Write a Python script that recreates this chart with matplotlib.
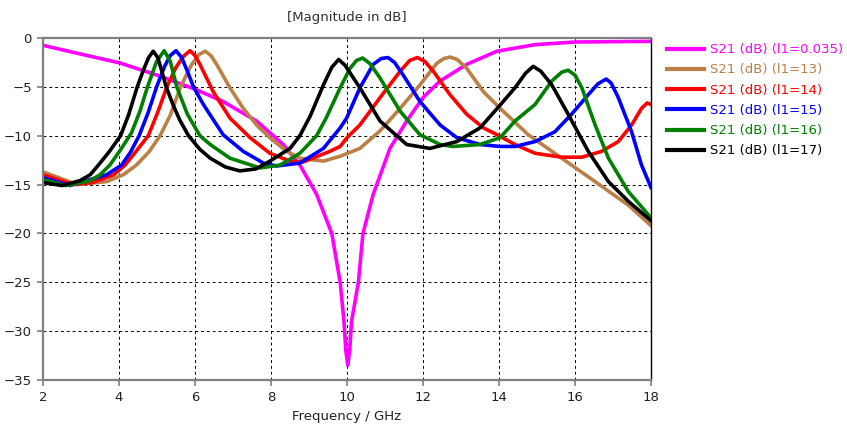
import matplotlib
matplotlib.use("Agg")
import matplotlib.pyplot as plt

# S21 magnitude (dB) vs frequency (GHz)
f_0035 = [2.0, 3.0, 4.03, 5.08, 6.04, 6.74, 7.62, 8.32, 8.76, 9.2, 9.6, 9.82, 9.92, 9.97, 10.02,
          10.07, 10.12, 10.3, 10.42, 10.69, 11.13, 11.57, 12.0, 12.45, 13.15, 13.94, 14.95, 16.0, 18.0]
s_0035 = [-0.75, -1.65, -2.56, -3.9, -5.3, -6.5, -8.5, -10.9, -13.0, -16.0, -20.0, -25.0, -29.0, -32.0, -33.5,
          -32.0, -29.0, -25.0, -20.0, -16.0, -11.3, -8.5, -6.1, -4.4, -2.7, -1.36, -0.68, -0.41, -0.34]

f_13 = [2.0, 2.9, 3.67, 4.11, 4.46, 4.8, 5.08, 5.35, 5.62, 5.9, 6.1, 6.27, 6.42, 6.57, 6.92, 7.27, 7.62, 7.97,
        8.41, 8.76, 9.38, 9.82, 10.34, 10.87, 11.4, 11.92, 12.36, 12.55, 12.71, 12.9, 13.15, 13.59, 14.03,
        14.77, 15.65, 16.53, 17.4, 18.0]
s_13 = [-13.7, -15.0, -14.7, -14.0, -13.0, -11.6, -10.0, -7.9, -5.0, -2.8, -1.7, -1.35, -1.8, -2.7, -5.1, -7.2, -8.9, -10.2,
        -11.6, -12.3, -12.6, -12.1, -11.3, -9.5, -7.2, -4.8, -2.6, -2.1, -1.95, -2.2, -3.1, -5.5, -7.2,
        -9.9, -12.3, -14.7, -17.1, -19.2]

f_14 = [2.0, 2.8, 3.3, 3.86, 4.16, 4.47, 4.77, 5.02, 5.26, 5.5, 5.69, 5.87, 6.0, 6.13, 6.48, 6.92, 7.45, 7.97, 8.5,
        8.84, 9.55, 9.82, 10.0, 10.34, 10.87, 11.4, 11.65, 11.85, 12.05, 12.27, 12.71, 13.15, 13.59, 14.0,
        14.42, 14.95, 15.65, 16.18, 16.7, 17.14, 17.49, 17.75, 17.9, 18.0]
s_14 = [-14.0, -15.0, -14.8, -14.0, -13.0, -11.5, -10.0, -7.6, -5.0, -3.0, -1.9, -1.3, -1.8, -2.7, -5.5, -8.2, -10.2, -11.8, -12.6,
        -12.7, -11.6, -11.1, -10.2, -8.9, -6.1, -3.4, -2.3, -2.0, -2.4, -3.4, -5.8, -7.8, -9.2, -10.0,
        -10.9, -11.8, -12.2, -12.2, -11.6, -10.6, -8.9, -7.2, -6.65, -6.8]

f_15 = [2.0, 2.7, 3.67, 4.07, 4.3, 4.53, 4.77, 4.99, 5.2, 5.35, 5.5, 5.65, 5.82, 5.96, 6.22, 6.74, 7.27, 7.8, 8.15,
        8.76, 9.38, 9.82, 9.99, 10.34, 10.69, 10.9, 11.08, 11.25, 11.48, 11.92, 12.45, 12.89, 13.5, 14.03,
        14.42, 14.95, 15.47, 15.91, 16.35, 16.6, 16.82, 16.95, 17.14, 17.49, 17.75, 18.0]
s_15 = [-14.3, -15.1, -14.0, -13.0, -11.7, -10.0, -7.6, -5.0, -2.9, -1.8, -1.3, -2.0, -3.6, -5.0, -6.8, -9.9, -11.6, -12.8, -13.1,
        -12.8, -11.3, -9.2, -8.2, -5.1, -2.7, -2.1, -2.0, -2.5, -3.8, -6.5, -8.9, -10.2, -10.9, -11.1,
        -11.1, -10.6, -9.6, -7.8, -5.8, -4.7, -4.2, -4.6, -6.1, -9.6, -13.0, -15.3]

f_16 = [2.0, 2.6, 3.24, 3.5, 3.76, 4.03, 4.33, 4.55, 4.75, 4.99, 5.19, 5.35, 5.52, 5.8, 6.13, 6.4, 6.92, 7.71, 8.24,
        8.76, 9.2, 9.45, 9.82, 10.08, 10.25, 10.41, 10.6, 10.87, 11.4, 11.92, 12.45, 12.79, 13.5, 14.03, 14.42,
        14.95, 15.39, 15.65, 15.82, 16.0, 16.18, 16.53, 16.88, 17.4, 18.0]
s_16 = [-14.5, -15.1, -14.6, -14.0, -13.0, -11.5, -9.7, -7.5, -5.0, -2.4, -1.3, -2.4, -5.0, -7.8, -10.0, -10.9, -12.3, -13.3, -13.0,
        -11.8, -10.0, -8.2, -5.1, -3.1, -2.3, -2.05, -2.6, -4.1, -7.5, -9.9, -10.9, -11.1, -10.9, -10.2, -8.5,
        -6.8, -4.4, -3.5, -3.3, -3.8, -5.1, -8.9, -12.3, -15.7, -18.4]

f_17 = [2.0, 2.5, 2.97, 3.24, 3.46, 3.75, 4.04, 4.25, 4.48, 4.64, 4.78, 4.9, 5.02, 5.12, 5.24, 5.43, 5.6, 5.83, 6.13, 6.4,
        6.8, 7.18, 7.6, 7.97, 8.5, 8.76, 9.03, 9.38, 9.6, 9.78, 9.95, 10.34, 10.87, 11.57, 12.18, 12.89, 13.5,
        14.0, 14.42, 14.7, 14.9, 15.1, 15.39, 15.82, 16.35, 16.88, 17.4, 18.0]
s_17 = [-14.8, -15.1, -14.6, -14.0, -13.0, -11.6, -10.0, -7.9, -5.0, -3.3, -2.0, -1.35, -2.0, -3.3, -5.0, -6.9, -8.4, -10.0, -11.4, -12.3,
        -13.2, -13.6, -13.4, -12.6, -11.3, -10.0, -8.0, -4.8, -3.0, -2.2, -2.8, -5.1, -8.5, -10.9, -11.3, -10.6, -9.2,
        -7.0, -5.1, -3.6, -2.9, -3.4, -4.8, -7.8, -11.6, -14.7, -16.7, -18.7]

labels = ["S21 (dB) (l1=0.035)", "S21 (dB) (l1=13)", "S21 (dB) (l1=14)",
          "S21 (dB) (l1=15)", "S21 (dB) (l1=16)", "S21 (dB) (l1=17)"]
colors = ["#FF00FF", "#BC8046", "#FF0000", "#0000FF", "#008000", "#000000"]
freqs = [f_0035, f_13, f_14, f_15, f_16, f_17]
s21 = [s_0035, s_13, s_14, s_15, s_16, s_17]

xticks = [2, 4, 6, 8, 10, 12, 14, 16, 18]
yticks = [0, -5, -10, -15, -20, -25, -30, -35]

plt.rcParams['font.family'] = ['DejaVu Sans']

fig = plt.figure(figsize=(8.47, 4.34), dpi=100)
ax = fig.add_axes([43 / 847, 54 / 434, 608 / 847, 342 / 434])

for f, s, c, lab in zip(freqs, s21, colors, labels):
    ax.plot(f, s, color=c, lw=2.6, label=lab, solid_joinstyle='round')

ax.set_xlim(2, 18)
ax.set_ylim(-35, 0)
ax.set_xticks(xticks)
ax.set_yticks(yticks)
ax.grid(True, color='black', linestyle=(0, (3, 3)), linewidth=0.7)

for side in ['left', 'bottom', 'top']:
    ax.spines[side].set_color('#808080')
    ax.spines[side].set_linewidth(1.6)
ax.spines['right'].set_color('black')
ax.spines['right'].set_linewidth(1.0)

ax.tick_params(direction='out', length=4, width=1.2, color='#808080',
               labelsize=9.5, labelcolor='#202020', pad=4)

ax.set_title("[Magnitude in dB]", fontsize=9.5, color='#303030', pad=12)
ax.set_xlabel("Frequency / GHz", fontsize=9.5, color='#202020', labelpad=4)

leg = ax.legend(loc='upper left', bbox_to_anchor=(1.026, 0.985), frameon=False,
                fontsize=9.5, labelcolor='linecolor', handlelength=2.8, handletextpad=0.5,
                labelspacing=0.55, borderpad=0, borderaxespad=0)
for line in leg.get_lines():
    line.set_linewidth(3)

fig.savefig("out.png", dpi=100)
